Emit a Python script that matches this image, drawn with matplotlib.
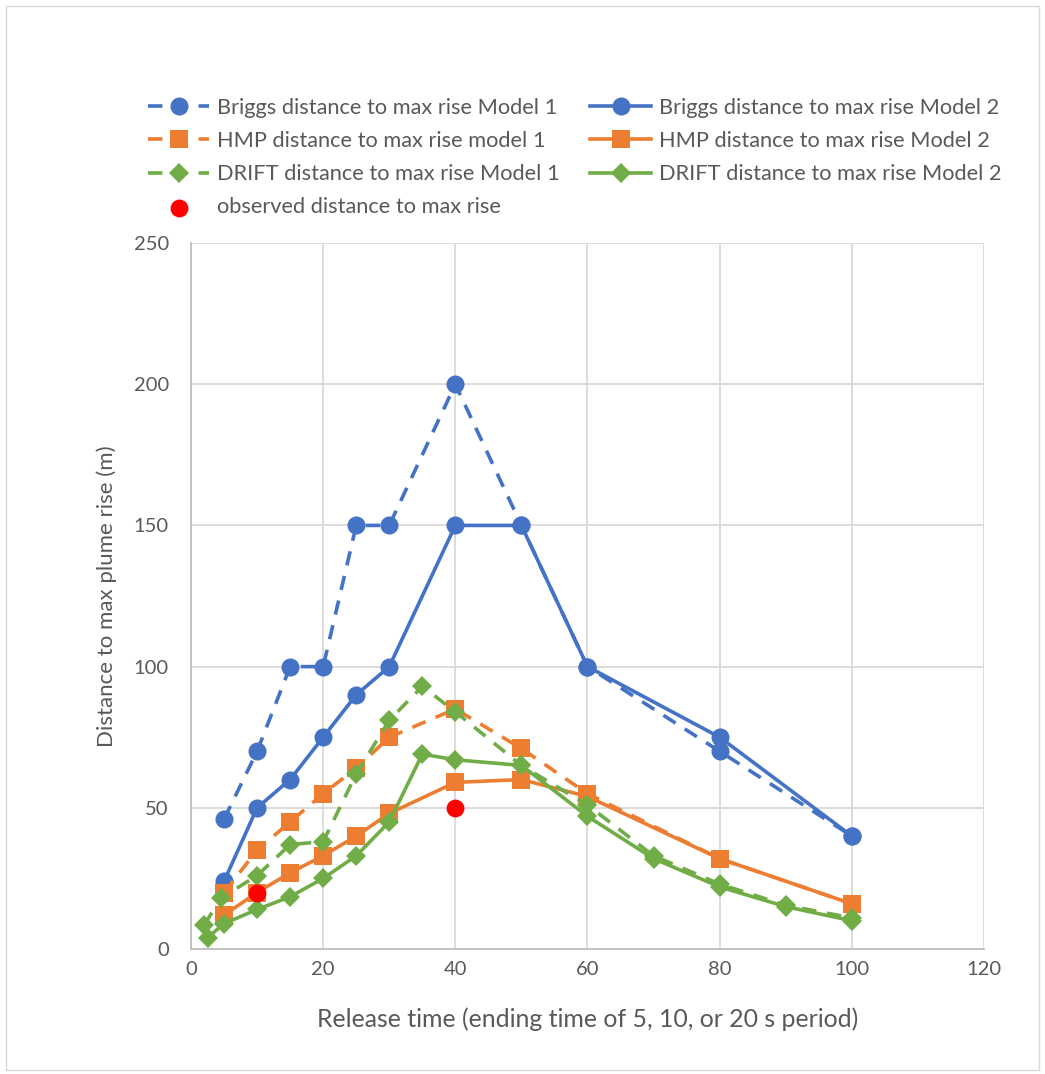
import matplotlib
matplotlib.use("Agg")
import matplotlib.pyplot as plt
from matplotlib.patches import Rectangle

# ---- data ----
briggs_x = [5, 10, 15, 20, 25, 30, 40, 50, 60, 80, 100]
briggs_m1 = [46, 70, 100, 100, 150, 150, 200, 150, 100, 70, 40]
briggs_m2 = [24, 50, 60, 75, 90, 100, 150, 150, 100, 75, 40]

hmp_x = [5, 10, 15, 20, 25, 30, 40, 50, 60, 80, 100]
hmp_m1 = [20, 35, 45, 55, 64, 75, 85, 71, 55, 32, 16]
hmp_m2 = [12, 20, 27, 33, 40, 48, 59, 60, 54, 32, 16]

drift_x_m1 = [2, 4.5, 10, 15, 20, 25, 30, 35, 40, 50, 60, 70, 80, 90, 100]
drift_m1 = [8.5, 18, 26, 37, 38, 62, 81, 93, 84, 65, 51, 33, 23, 15.5, 11]
drift_x_m2 = [2.5, 5, 10, 15, 20, 25, 30, 35, 40, 50, 60, 70, 80, 90, 100]
drift_m2 = [4, 9, 14, 18.5, 25, 33, 45, 69, 67, 65, 47, 32, 22, 15, 10]

obs_x = [10, 40]
obs_y = [20, 50]

x_ticks = [0, 20, 40, 60, 80, 100, 120]
y_ticks = [0, 50, 100, 150, 200, 250]

BLUE = "#4472C4"
ORANGE = "#ED7D31"
GREEN = "#70AD47"
RED = "#FF0000"
TXT = "#595959"
GRID = "#D9D9D9"

plt.rcParams["font.family"] = ["Lato", "DejaVu Sans"]

DASH = (0, (4, 3))
LW = 2.6


def main() -> int:
    fig = plt.figure(figsize=(10.45, 10.74), dpi=100)
    fig.patches.append(Rectangle((0.006, 0.004), 0.988, 0.99, transform=fig.transFigure,
                                 fill=False, edgecolor=GRID, linewidth=1))
    ax = fig.add_axes([0.1828, 0.1164, 0.7588, 0.6573])

    series = [
        (briggs_x, briggs_m1, BLUE, DASH, "o", 13, "Briggs distance to max rise Model 1"),
        (briggs_x, briggs_m2, BLUE, "-", "o", 13, "Briggs distance to max rise Model 2"),
        (hmp_x, hmp_m1, ORANGE, DASH, "s", 13.5, "HMP distance to max rise model 1"),
        (hmp_x, hmp_m2, ORANGE, "-", "s", 13.5, "HMP distance to max rise Model 2"),
        (drift_x_m1, drift_m1, GREEN, DASH, "D", 10.5, "DRIFT distance to max rise Model 1"),
        (drift_x_m2, drift_m2, GREEN, "-", "D", 10.5, "DRIFT distance to max rise Model 2"),
    ]
    handles = {}
    for i, (xs, ys, c, ls, mk, ms, lab) in enumerate(series):
        h, = ax.plot(xs, ys, color=c, linestyle=ls, linewidth=LW, marker=mk,
                     markersize=ms, markeredgewidth=0, zorder=3 + i, label=lab)
        handles[lab] = h
    obs = ax.scatter(obs_x, obs_y, s=165, color=RED, zorder=10, linewidths=0,
                     label="observed distance to max rise")

    ax.set_xlim(0, 120)
    ax.set_ylim(0, 250)
    ax.set_xticks(x_ticks)
    ax.set_yticks(y_ticks)
    ax.grid(True, color=GRID, linewidth=1.3)
    ax.set_axisbelow(True)
    for side in ("top", "right"):
        ax.spines[side].set_visible(False)
    for side in ("left", "bottom"):
        ax.spines[side].set_color("#BFBFBF")
        ax.spines[side].set_linewidth(1.3)
    ax.tick_params(length=0, labelsize=14.5, labelcolor=TXT)
    ax.tick_params(axis="x", pad=9)
    ax.tick_params(axis="y", pad=16)
    ax.set_xlabel("Release time (ending time of 5, 10, or 20 s period)",
                  fontsize=17.9, color=TXT, labelpad=21)
    ax.set_ylabel("Distance to max plume rise (m)", fontsize=16, color=TXT, labelpad=12)

    # Excel fills legend rows first; matplotlib fills columns, so reorder
    labs = [s[6] for s in series]
    col1 = [labs[0], labs[2], labs[4]]
    col2 = [labs[1], labs[3], labs[5]]
    hs = [handles[l] for l in col1] + [obs] + [handles[l] for l in col2]
    ls_ = col1 + ["observed distance to max rise"] + col2
    fig.legend(hs, ls_, ncol=2, loc="upper left", bbox_to_anchor=(0.123, 0.927),
               frameon=False, fontsize=15.7, labelcolor=TXT, handlelength=2.8,
               handletextpad=0.35, columnspacing=1.4, labelspacing=0.6)

    fig.savefig("out.png", dpi=100)
    plt.close(fig)
    return 0


if __name__ == "__main__":
    raise SystemExit(main())
